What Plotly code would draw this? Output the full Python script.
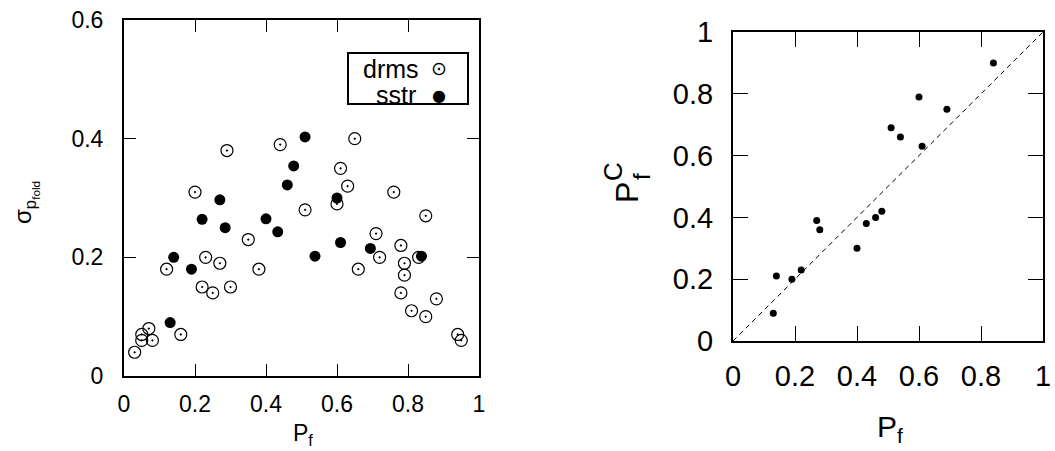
import plotly.graph_objects as go

# ---- data: left panel ----
drms_x = [0.03, 0.05, 0.05, 0.07, 0.08, 0.12, 0.16, 0.20, 0.22, 0.23, 0.25, 0.27, 0.29,
          0.30, 0.35, 0.38, 0.44, 0.51, 0.60, 0.61, 0.63, 0.65, 0.66, 0.71, 0.72, 0.76,
          0.78, 0.78, 0.79, 0.79, 0.81, 0.83, 0.85, 0.85, 0.88, 0.94, 0.95]
drms_y = [0.04, 0.07, 0.06, 0.08, 0.06, 0.18, 0.07, 0.31, 0.15, 0.20, 0.14, 0.19, 0.38,
          0.15, 0.23, 0.18, 0.39, 0.28, 0.29, 0.35, 0.32, 0.40, 0.18, 0.24, 0.20, 0.31,
          0.22, 0.14, 0.19, 0.17, 0.11, 0.20, 0.27, 0.10, 0.13, 0.07, 0.06]
sstr_x = [0.13, 0.14, 0.19, 0.22, 0.27, 0.285, 0.40, 0.433, 0.46, 0.478, 0.51, 0.538,
          0.60, 0.61, 0.694, 0.838]
sstr_y = [0.09, 0.20, 0.18, 0.264, 0.297, 0.25, 0.265, 0.243, 0.322, 0.354, 0.403, 0.202,
          0.30, 0.225, 0.215, 0.202]

# ---- data: right panel ----
pf = [0.13, 0.14, 0.19, 0.22, 0.27, 0.28, 0.40, 0.43, 0.46, 0.48, 0.51, 0.54,
      0.60, 0.61, 0.69, 0.84]
pfc = [0.09, 0.21, 0.20, 0.23, 0.39, 0.36, 0.30, 0.38, 0.40, 0.42, 0.69, 0.66,
       0.79, 0.63, 0.75, 0.90]
diag = [0, 1]

left_xticks = [0, 0.2, 0.4, 0.6, 0.8, 1]
left_xlabels = ["0", "0.2", "0.4", "0.6", "0.8", "1"]
left_yticks = [0, 0.2, 0.4, 0.6]
left_ylabels = ["0", "0.2", "0.4", "0.6"]
right_ticks = [0, 0.2, 0.4, 0.6, 0.8, 1]
right_labels = ["0", "0.2", "0.4", "0.6", "0.8", "1"]
legend_names = ["drms", "sstr"]

FONT = "Liberation Sans, Arial, sans-serif"
W, H = 1055, 451

fig = go.Figure()
fig.add_trace(go.Scatter(x=drms_x, y=drms_y, mode="markers", name=legend_names[0],
                         marker=dict(symbol="circle-open-dot", size=12, color="black",
                                     line=dict(width=1.2, color="black")),
                         xaxis="x", yaxis="y", showlegend=False))
fig.add_trace(go.Scatter(x=sstr_x, y=sstr_y, mode="markers", name=legend_names[1],
                         marker=dict(symbol="circle", size=11, color="black"),
                         xaxis="x", yaxis="y", showlegend=False))
fig.add_trace(go.Scatter(x=diag, y=diag, mode="lines",
                         line=dict(color="black", width=1, dash="5px,4px"),
                         xaxis="x2", yaxis="y2", showlegend=False))
fig.add_trace(go.Scatter(x=pf, y=pfc, mode="markers",
                         marker=dict(symbol="circle", size=7, color="black"),
                         xaxis="x2", yaxis="y2", showlegend=False))


def px_x(p):
    return p / W


def px_y(p):
    return 1 - p / H


common = dict(showgrid=False, zeroline=False, showline=True, linecolor="black",
              linewidth=2, mirror="ticks", ticks="inside", tickcolor="black",
              tickwidth=1.2, color="black", automargin=False)

fig.update_layout(
    template="none",
    width=W, height=H, margin=dict(l=0, r=0, t=0, b=0, pad=0),
    paper_bgcolor="white", plot_bgcolor="white",
    font=dict(family=FONT, color="black"),
    showlegend=False,
    xaxis=dict(domain=[px_x(124), px_x(479)], range=[0, 1], anchor="y",
               tickvals=left_xticks, ticktext=left_xlabels, ticklen=12,
               tickfont=dict(size=23), ticklabelstandoff=6, **common),
    yaxis=dict(domain=[px_y(376), px_y(20)], range=[0, 0.6], anchor="x",
               tickvals=left_yticks, ticktext=left_ylabels, ticklen=12,
               tickfont=dict(size=23), ticklabelstandoff=14, **common),
    xaxis2=dict(domain=[px_x(733), px_x(1043)], range=[0, 1], anchor="y2",
                tickvals=right_ticks, ticktext=right_labels, ticklen=15,
                tickfont=dict(size=29), ticklabelstandoff=8, **common),
    yaxis2=dict(domain=[px_y(341), px_y(32)], range=[0, 1], anchor="x2",
                tickvals=right_ticks, ticktext=right_labels, ticklen=15,
                tickfont=dict(size=29), ticklabelstandoff=12, **common),
)


def ann(text, x, y, size, angle=0, xanchor="center", family=FONT):
    fig.add_annotation(text=text, xref="paper", yref="paper", x=px_x(x), y=px_y(y),
                       xanchor=xanchor, yanchor="middle", showarrow=False,
                       textangle=angle, font=dict(size=size, family=family))


# axis titles
ann("P<sub>f</sub>", 303, 434, 23)
ann("σ<sub>p<sub>fold</sub></sub>", 25, 203, 24, angle=-90)
ann("P<sub>f</sub>", 890, 428, 30)
# right y title: P with stacked superscript C and subscript f
ann("P", 627, 193, 32, angle=-90)
ann("C", 613, 172, 26, angle=-90)
ann("f", 641, 176, 24, angle=-90)

# legend of left panel
fig.add_shape(type="rect", xref="paper", yref="paper", x0=px_x(348), x1=px_x(468),
              y0=px_y(104), y1=px_y(53), line=dict(color="black", width=2),
              fillcolor="white", layer="below")
ann(legend_names[0], 421, 69, 25, xanchor="right")
ann(legend_names[1], 418, 95, 25, xanchor="right")
ann("⊙", 439, 68, 19, family="DejaVu Sans")
ann("●", 439, 95, 16, family="DejaVu Sans")

fig.write_html("out.html", config={"displayModeBar": False},
               post_script="document.body.style.margin='0px';")
